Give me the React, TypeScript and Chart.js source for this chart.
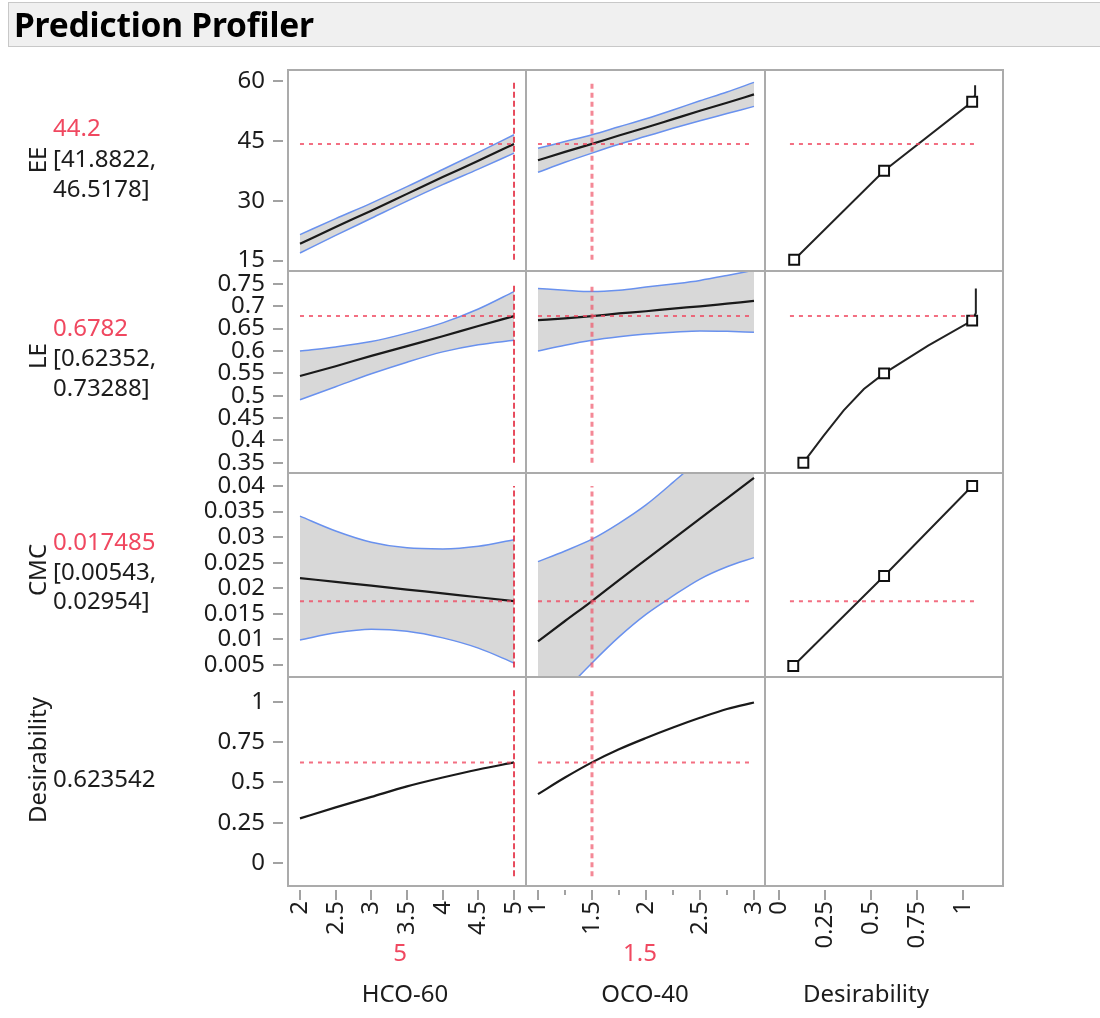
import React, { useEffect, useRef } from 'react';
import { Chart, registerables } from 'chart.js';

// ---- clip every dataset (incl. its fill) to its own cell ----
const cellClip = {
  id: 'cellClip',
  beforeDatasetDraw(chart: any, args: any) {
    const { xScale, yScale } = args.meta;
    const ctx = chart.ctx;
    ctx.save();
    if (xScale && yScale) {
      ctx.beginPath();
      ctx.rect(xScale.left, yScale.top, xScale.right - xScale.left, yScale.bottom - yScale.top);
      ctx.clip();
    }
  },
  afterDatasetDraw(chart: any) {
    chart.ctx.restore();
  },
};
Chart.register(cellClip);
Chart.register(...registerables);

// ---------------- data ----------------
const FACTORS = ['HCO-60', 'OCO-40', 'Desirability'];
const FACTOR_VALUES = ['5', '1.5'];
const RESPONSES = ['EE', 'LE', 'CMC', 'Desirability'];
const RESPONSE_VALUES = ['44.2', '0.6782', '0.017485', '0.623542'];
const RESPONSE_CI_LOW = ['[41.8822,', '[0.62352,', '[0.00543,'];
const RESPONSE_CI_HIGH = ['46.5178]', '0.73288]', '0.02954]'];

const CURRENT_HCO60 = 5;
const CURRENT_OCO40 = 1.5;
const CURRENT_EE = 44.2;
const CURRENT_LE = 0.6782;
const CURRENT_CMC = 0.017485;
const CURRENT_DES = 0.623542;

const HCO60_X = [2, 2.5, 3, 3.5, 4, 4.5, 5];
const OCO40_X = [1, 1.25, 1.5, 1.75, 2, 2.25, 2.5, 2.75, 3];

const EE_HCO_MEAN = [19.2, 23.4, 27.5, 31.7, 35.9, 40.0, 44.2];
const EE_HCO_UPPER = [21.5, 25.5, 29.4, 33.5, 37.8, 42.1, 46.5];
const EE_HCO_LOWER = [16.9, 21.3, 25.6, 29.9, 34.0, 37.9, 41.9];
const EE_OCO_MEAN = [40.1, 42.2, 44.2, 46.3, 48.3, 50.4, 52.5, 54.5, 56.6];
const EE_OCO_UPPER = [43.1, 44.8, 46.5, 48.5, 50.5, 52.7, 55.0, 57.2, 59.6];
const EE_OCO_LOWER = [37.1, 39.6, 41.9, 44.1, 46.1, 48.1, 50.0, 51.8, 53.6];

const LE_HCO_MEAN = [0.544, 0.566, 0.589, 0.611, 0.633, 0.656, 0.678];
const LE_HCO_UPPER = [0.6, 0.609, 0.621, 0.64, 0.663, 0.694, 0.733];
const LE_HCO_LOWER = [0.491, 0.52, 0.549, 0.575, 0.598, 0.614, 0.624];
const LE_OCO_MEAN = [0.669, 0.673, 0.678, 0.684, 0.689, 0.695, 0.7, 0.706, 0.712];
const LE_OCO_UPPER = [0.74, 0.736, 0.733, 0.736, 0.743, 0.75, 0.758, 0.769, 0.781];
const LE_OCO_LOWER = [0.6, 0.613, 0.624, 0.632, 0.638, 0.642, 0.645, 0.644, 0.642];

const CMC_HCO_MEAN = [0.022, 0.02125, 0.0205, 0.01975, 0.019, 0.01825, 0.0175];
const CMC_HCO_UPPER = [0.0341, 0.0312, 0.029, 0.0279, 0.0277, 0.0282, 0.0295];
const CMC_HCO_LOWER = [0.0099, 0.0113, 0.012, 0.0116, 0.0103, 0.0083, 0.0054];
const CMC_OCO_MEAN = [0.0096, 0.0136, 0.0175, 0.0216, 0.0256, 0.0296, 0.0336, 0.0376, 0.0416];
const CMC_OCO_UPPER = [0.0252, 0.0273, 0.0296, 0.0327, 0.0363, 0.0407, 0.0454, 0.051, 0.0572];
const CMC_OCO_LOWER = [-0.006, -0.0001, 0.0054, 0.0105, 0.0149, 0.0185, 0.0218, 0.0242, 0.026];

const DES_HCO = [0.277, 0.345, 0.41, 0.475, 0.53, 0.58, 0.624];
const DES_OCO = [0.427, 0.53, 0.624, 0.705, 0.775, 0.84, 0.9, 0.955, 0.995];

// desirability functions (x = desirability, y = response)
const EE_DFN_D = [0.08, 0.57, 1.05, 1.066, 1.066];
const EE_DFN_Y = [15.2, 37.5, 54.75, 56.5, 58.9];
const LE_DFN_D = [0.13, 0.24, 0.35, 0.46, 0.57, 0.81, 1.05, 1.07, 1.07];
const LE_DFN_Y = [0.35, 0.41, 0.467, 0.515, 0.55, 0.612, 0.668, 0.685, 0.74];
const CMC_DFN_D = [0.075, 0.57, 1.05];
const CMC_DFN_Y = [0.0048, 0.0224, 0.04];
const EE_MARK_D = [0.08, 0.57, 1.05];
const EE_MARK_Y = [15.2, 37.5, 54.75];
const LE_MARK_D = [0.13, 0.57, 1.05];
const LE_MARK_Y = [0.35, 0.55, 0.668];
const CMC_MARK_D = [0.075, 0.57, 1.05];
const CMC_MARK_Y = [0.0048, 0.0224, 0.04];
const DESIR_REF_RANGE = [0.057, 1.075];

const EE_VREF = [15.2, 60];
const LE_VREF = [0.35, 0.75];
const CMC_VREF = [0.0045, 0.04];
const DES_VREF = [-0.081, 1.079];

const EE_TICKS = [15, 30, 45, 60];
const LE_TICKS = [0.35, 0.4, 0.45, 0.5, 0.55, 0.6, 0.65, 0.7, 0.75];
const CMC_TICKS = [0.005, 0.01, 0.015, 0.02, 0.025, 0.03, 0.035, 0.04];
const DES_TICKS = [0, 0.25, 0.5, 0.75, 1];
const HCO60_TICKS = [2, 2.5, 3, 3.5, 4, 4.5, 5];
const OCO40_TICKS = [1, 1.5, 2, 2.5, 3];
const OCO40_MINOR = [1.25, 1.75, 2.25, 2.75];
const DESIR_X_TICKS = [0, 0.25, 0.5, 0.75, 1];

// ---------------- style ----------------
const FONT = "'Noto Sans', 'Open Sans', sans-serif";
const FS = 24;
const RED = 'rgb(240, 72, 96)';
const TXT = '#1c1c1c';
const BLUE = 'rgb(105, 145, 238)';
const BAND = 'rgb(216, 216, 216)';
const FRAME = '#ababab';

const pts = (xs: number[], ys: number[]) => xs.map((x, i) => ({ x, y: ys[i] }));

function buildDatasets() {
  const ds: any[] = [];
  const yIds = ['yEE', 'yLE', 'yCMC', 'yDes'];
  const cur = [CURRENT_EE, CURRENT_LE, CURRENT_CMC, CURRENT_DES];
  const vspan = [EE_VREF, LE_VREF, CMC_VREF, DES_VREF];
  const base = { pointRadius: 0, fill: false, tension: 0 };
  const hRef = { ...base, borderColor: 'rgba(240, 70, 95, 0.78)', borderWidth: 2, borderDash: [4, 5] };
  const vRef1 = { ...base, borderColor: 'rgb(226, 34, 56)', borderWidth: 1.6, borderDash: [6, 3] };
  const vRef2 = { ...base, borderColor: 'rgba(240, 85, 105, 0.7)', borderWidth: 3, borderDash: [5, 4] };
  for (let r = 0; r < 4; r++) {
    ds.push({ ...hRef, xAxisID: 'xHCO', yAxisID: yIds[r], data: pts([HCO60_X[0], HCO60_X[HCO60_X.length - 1]], [cur[r], cur[r]]) });
    ds.push({ ...hRef, xAxisID: 'xOCO', yAxisID: yIds[r], data: pts([OCO40_X[0], OCO40_X[OCO40_X.length - 1]], [cur[r], cur[r]]) });
    if (r < 3) ds.push({ ...hRef, xAxisID: 'xDes', yAxisID: yIds[r], data: pts(DESIR_REF_RANGE, [cur[r], cur[r]]) });
    ds.push({ ...vRef1, xAxisID: 'xHCO', yAxisID: yIds[r], data: pts([CURRENT_HCO60, CURRENT_HCO60], vspan[r]) });
    ds.push({ ...vRef2, xAxisID: 'xOCO', yAxisID: yIds[r], data: pts([CURRENT_OCO40, CURRENT_OCO40], vspan[r]) });
  }
  const marks = [
    [EE_MARK_D, EE_MARK_Y, 'yEE'],
    [LE_MARK_D, LE_MARK_Y, 'yLE'],
    [CMC_MARK_D, CMC_MARK_Y, 'yCMC'],
  ] as any[];
  for (const [d, y, id] of marks) {
    ds.push({ xAxisID: 'xDes', yAxisID: id, data: pts(d, y), showLine: false, pointStyle: 'rect', pointRadius: 7, pointBackgroundColor: '#ffffff', pointBorderColor: '#111111', pointBorderWidth: 2 });
  }
  const curves = [
    [EE_DFN_D, EE_DFN_Y, 'yEE'],
    [LE_DFN_D, LE_DFN_Y, 'yLE'],
    [CMC_DFN_D, CMC_DFN_Y, 'yCMC'],
  ] as any[];
  for (const [d, y, id] of curves) {
    ds.push({ xAxisID: 'xDes', yAxisID: id, data: pts(d, y), borderColor: '#222222', borderWidth: 2, pointRadius: 0, tension: 0, fill: false });
  }
  const means = [
    ['xHCO', 'yEE', HCO60_X, EE_HCO_MEAN], ['xOCO', 'yEE', OCO40_X, EE_OCO_MEAN],
    ['xHCO', 'yLE', HCO60_X, LE_HCO_MEAN], ['xOCO', 'yLE', OCO40_X, LE_OCO_MEAN],
    ['xHCO', 'yCMC', HCO60_X, CMC_HCO_MEAN], ['xOCO', 'yCMC', OCO40_X, CMC_OCO_MEAN],
    ['xHCO', 'yDes', HCO60_X, DES_HCO], ['xOCO', 'yDes', OCO40_X, DES_OCO],
  ] as any[];
  for (const [xid, yid, xs, ys] of means) {
    ds.push({ xAxisID: xid, yAxisID: yid, data: pts(xs, ys), borderColor: '#1a1a1a', borderWidth: 2.2, pointRadius: 0, cubicInterpolationMode: 'monotone', fill: false });
  }
  const bands = [
    ['xHCO', 'yEE', HCO60_X, EE_HCO_LOWER, EE_HCO_UPPER], ['xOCO', 'yEE', OCO40_X, EE_OCO_LOWER, EE_OCO_UPPER],
    ['xHCO', 'yLE', HCO60_X, LE_HCO_LOWER, LE_HCO_UPPER], ['xOCO', 'yLE', OCO40_X, LE_OCO_LOWER, LE_OCO_UPPER],
    ['xHCO', 'yCMC', HCO60_X, CMC_HCO_LOWER, CMC_HCO_UPPER], ['xOCO', 'yCMC', OCO40_X, CMC_OCO_LOWER, CMC_OCO_UPPER],
  ] as any[];
  for (const [xid, yid, xs, lo, hi] of bands) {
    ds.push({ xAxisID: xid, yAxisID: yid, data: pts(xs, lo), borderColor: BLUE, borderWidth: 1.5, pointRadius: 0, cubicInterpolationMode: 'monotone', fill: false });
    ds.push({ xAxisID: xid, yAxisID: yid, data: pts(xs, hi), borderColor: BLUE, borderWidth: 1.5, pointRadius: 0, cubicInterpolationMode: 'monotone', fill: '-1', backgroundColor: BAND });
  }
  return ds;
}

const tickFont = { family: FONT, size: FS };
const Y_AXIS_W = 100;

function yScale(min: number, max: number, ticks: number[], weight: number, stackWeight: number) {
  return {
    type: 'linear', position: 'left', stack: 'rows', stackWeight, weight, min, max,
    grid: { display: false, drawTicks: false }, border: { display: false },
    afterBuildTicks: (s: any) => { s.ticks = ticks.map((v) => ({ value: v })); },
    afterFit: (s: any) => { s.width = Y_AXIS_W; },
    ticks: { autoSkip: false, padding: 23, font: tickFont, color: TXT, callback: (v: any) => String(v) },
  };
}
function xScale(min: number, max: number, ticks: number[], weight: number, stackWeight: number) {
  return {
    type: 'linear', position: 'bottom', stack: 'cols', stackWeight, weight, min, max,
    grid: { display: false, drawTicks: false }, border: { display: false },
    afterBuildTicks: (s: any) => { s.ticks = ticks.map((v) => ({ value: v })); },
    afterFit: (s: any) => { s.height = 70; },
    ticks: { autoSkip: false, maxRotation: 90, minRotation: 90, padding: 15, font: tickFont, color: TXT, callback: (v: any) => String(v) },
  };
}

const frames = {
  id: 'frames',
  afterDraw(chart: any) {
    const ctx = chart.ctx;
    const xs = ['xHCO', 'xOCO', 'xDes'].map((k) => chart.scales[k]);
    const ys = ['yEE', 'yLE', 'yCMC', 'yDes'].map((k) => chart.scales[k]);
    ctx.save();
    ctx.strokeStyle = '#a2a2a2';
    ctx.lineWidth = 2;
    ctx.beginPath();
    for (const s of ys) {
      for (const t of s.ticks) {
        const p = Math.round(s.getPixelForValue(t.value));
        ctx.moveTo(s.right - 15, p);
        ctx.lineTo(s.right - 5, p);
      }
    }
    for (const s of xs) {
      for (const t of s.ticks) {
        const p = Math.round(s.getPixelForValue(t.value));
        ctx.moveTo(p, s.top + 4);
        ctx.lineTo(p, s.top + 14);
      }
    }
    const oco = chart.scales.xOCO;
    for (const v of OCO40_MINOR) {
      const p = Math.round(oco.getPixelForValue(v));
      ctx.moveTo(p, oco.top + 4);
      ctx.lineTo(p, oco.top + 9);
    }
    ctx.stroke();
    ctx.strokeStyle = FRAME;
    ctx.lineWidth = 2;
    for (const sx of xs) {
      for (const sy of ys) {
        ctx.strokeRect(sx.left, sy.top, sx.right - sx.left, sy.bottom - sy.top);
      }
    }
    ctx.restore();
  },
};

function ChartCanvas() {
  const ref = useRef<HTMLCanvasElement>(null);
  useEffect(() => {
    const chart = new Chart(ref.current as HTMLCanvasElement, {
      type: 'line',
      data: { datasets: buildDatasets() },
      options: {
        animation: false,
        responsive: false,
        maintainAspectRatio: false,
        devicePixelRatio: 1,
        events: [],
        layout: { padding: { left: 288 - Y_AXIS_W, top: 70, right: 97, bottom: 1018 - 886 - 70 } },
        elements: { point: { radius: 0 } },
        plugins: { legend: { display: false }, tooltip: { enabled: false }, title: { display: false } },
        scales: {
          yEE: yScale(12.4, 62.7, EE_TICKS, 4, 201),
          yLE: yScale(0.327, 0.779, LE_TICKS, 3, 202),
          yCMC: yScale(0.00265, 0.04254, CMC_TICKS, 2, 204),
          yDes: yScale(-0.142, 1.153, DES_TICKS, 1, 209),
          xHCO: xScale(1.832, 5.168, HCO60_TICKS, 1, 238),
          xOCO: xScale(0.889, 3.102, OCO40_TICKS, 2, 239),
          xDes: xScale(-0.079, 1.218, DESIR_X_TICKS, 3, 238),
        } as any,
      } as any,
      plugins: [frames],
    } as any);
    return () => chart.destroy();
  }, []);
  return <canvas ref={ref} width={1100} height={1018} style={{ position: 'absolute', left: 0, top: 0, width: 1100, height: 1018 }} />;
}

const NAME_CX = 37;
const NAME_CY = [160, 356, 570, 760];
const VAL_X = 53;
const VAL_CY = [127, 327, 541, 778];
const LO_CY = [158, 357, 571];
const HI_CY = [188, 387, 600];
const FVAL_CX = [400, 640];
const FVAL_CY = 952;
const FNAME_CX = [405, 645, 866];
const FNAME_CY = 993;

const txt = (s: string, left: number, cy: number, color: string, key: string) => (
  <div key={key} style={{ position: 'absolute', left, top: cy - 15, height: 30, lineHeight: '30px', fontSize: FS, color, whiteSpace: 'nowrap' }}>{s}</div>
);
const ctxt = (s: string, cx: number, cy: number, color: string, key: string, rotate = false) => (
  <div key={key} style={{ position: 'absolute', left: cx, top: cy, transform: `translate(-50%, -50%)${rotate ? ' rotate(-90deg)' : ''}`, lineHeight: '30px', fontSize: FS, color, whiteSpace: 'nowrap' }}>{s}</div>
);

export default function App() {
  const items: any[] = [];
  RESPONSES.forEach((r, i) => {
    items.push(ctxt(r, NAME_CX, NAME_CY[i], TXT, 'n' + i, true));
    items.push(txt(RESPONSE_VALUES[i], VAL_X, VAL_CY[i], i < 3 ? RED : TXT, 'v' + i));
    if (i < 3) {
      items.push(txt(RESPONSE_CI_LOW[i], VAL_X, LO_CY[i], TXT, 'lo' + i));
      items.push(txt(RESPONSE_CI_HIGH[i], VAL_X, HI_CY[i], TXT, 'hi' + i));
    }
  });
  FACTOR_VALUES.forEach((v, i) => items.push(ctxt(v, FVAL_CX[i], FVAL_CY, RED, 'fv' + i)));
  FACTORS.forEach((f, i) => items.push(ctxt(f, FNAME_CX[i], FNAME_CY, TXT, 'fn' + i)));
  return (
    <div style={{ position: 'absolute', left: 0, top: 0, width: 1100, height: 1018, background: '#ffffff', fontFamily: FONT, overflow: 'hidden' }}>
      <ChartCanvas />
      <div style={{ position: 'absolute', left: 8, top: 2, width: 1100, height: 45, boxSizing: 'border-box', background: '#f0f0f0', border: '1px solid #c8c8c8', fontWeight: 700, fontSize: 33.5, lineHeight: '42px', paddingLeft: 5, color: '#000', letterSpacing: -0.2 }}>Prediction Profiler</div>
      {items}
    </div>
  );
}
